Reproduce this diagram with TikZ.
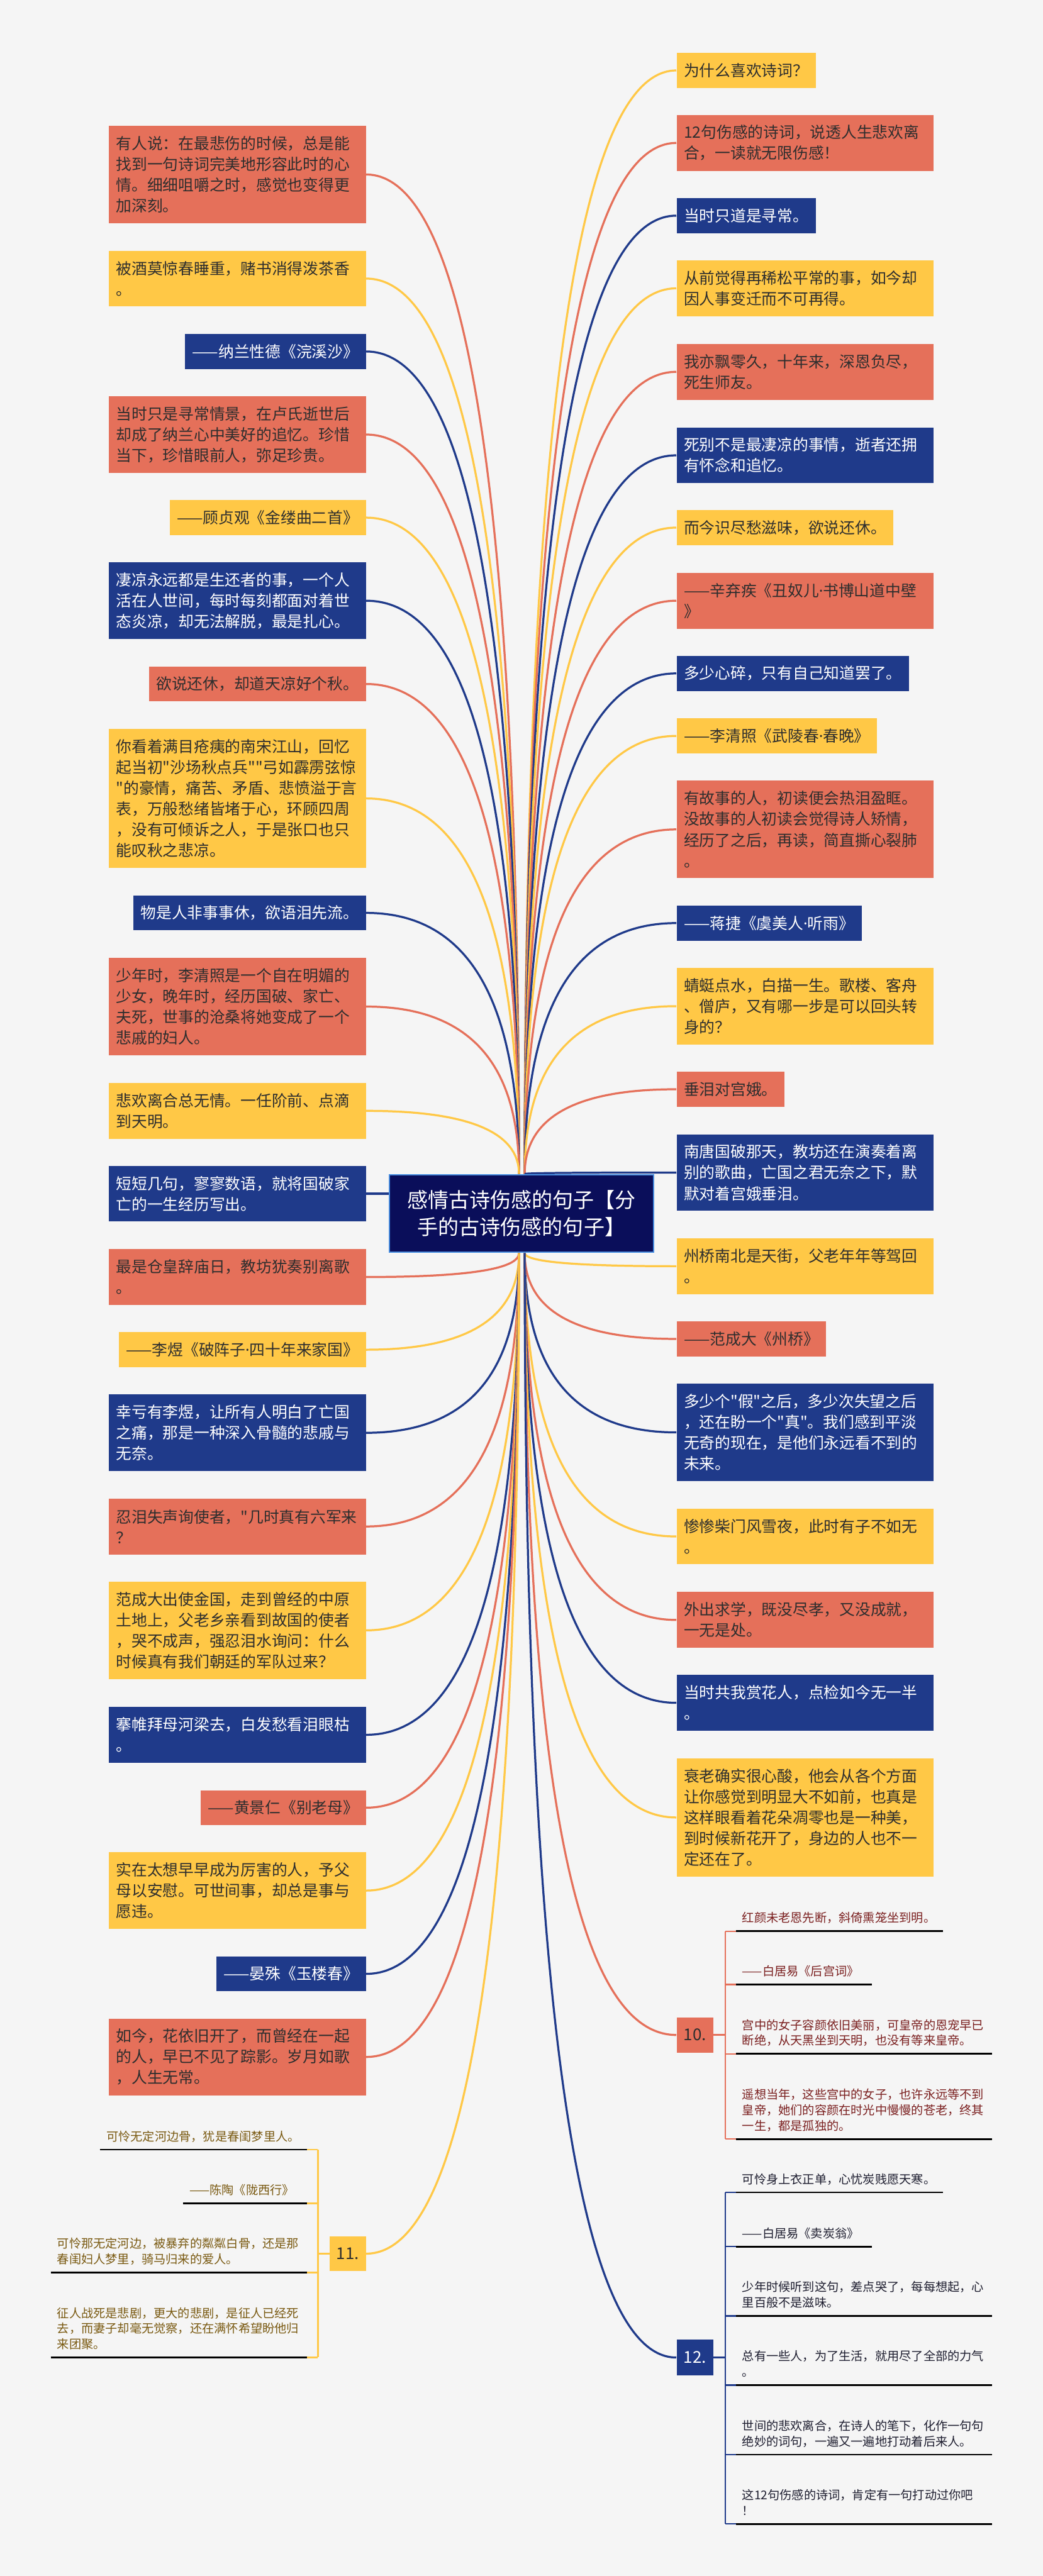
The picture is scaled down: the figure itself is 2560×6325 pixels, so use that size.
\documentclass[tikz,border=0pt]{standalone}
\usepackage{fontspec}
\setmainfont{Noto Sans CJK SC}
\newfontfamily\cjkf{Noto Sans CJK SC}
\newfontfamily\latinf{Noto Sans}
\newcommand\md{{\latinf ·}}
\usetikzlibrary{calc}
\definecolor{cred}{HTML}{E5705A}
\definecolor{cyel}{HTML}{FFC846}
\definecolor{cblue}{HTML}{1F3A8A}
\definecolor{croot}{HTML}{0A0E5A}
\definecolor{crootb}{HTML}{4A8FE0}
\definecolor{bgc}{HTML}{F5F5F5}
\definecolor{tdark}{HTML}{2E2E2E}
\definecolor{tred}{HTML}{7B2020}
\definecolor{tgold}{HTML}{7A5A12}
\definecolor{tnavy}{HTML}{1E1E30}
\pgfdeclarelayer{bgfill}\pgfdeclarelayer{links}\pgfsetlayers{bgfill,links,main}
\newcommand\mmlink[3]{\draw[mmline,#1] (#2) .. controls ($(#2)!0.667!(#2 |- #3)$) and ($(#3)!0.667!(#2 |- #3)$) .. (#3);}
\newcommand\dd{\rule[-1.5pt]{0pt}{1pt}}
\tikzset{
  mbox/.style={inner xsep=4.5pt, inner ysep=0pt, font=\cjkf\fontsize{9.55pt}{12.75pt}\selectfont, align=left},
  wide/.style={text width=148.75pt},
  hA/.style={minimum height=21.5pt},
  hB/.style={minimum height=34.25pt},
  hC/.style={minimum height=47pt},
  hD/.style={minimum height=59.75pt},
  hE/.style={minimum height=72.5pt},
  hF/.style={minimum height=85.25pt},
  bred/.style={fill=cred,text=tdark},
  byel/.style={fill=cyel,text=tdark},
  bblue/.style={fill=cblue,text=white},
  lft/.style={anchor=east},
  rgt/.style={anchor=west},
  mmline/.style={line width=1.25pt},
  rootbox/.style={fill=croot, draw=crootb, line width=0.75pt, text=white, align=center, font=\cjkf\fontsize{12.75pt}{16.75pt}\selectfont, minimum width=162pt, minimum height=47.75pt, inner sep=0pt},
  numbox/.style={inner sep=0pt, font=\cjkf\fontsize{10pt}{12pt}\selectfont, minimum width=22.5pt, minimum height=21.75pt},
  ctext/.style={inner xsep=3.75pt, inner ysep=3.7pt, align=left, font=\cjkf\fontsize{7.42pt}{9.5pt}\selectfont},
  brk/.style={line width=1pt},
  uline/.style={line width=1.1pt, black},
}
\begin{document}
\begin{tikzpicture}[x=0.25pt,y=-0.25pt]
\useasboundingbox (0,0) rectangle (2560,6325);
\begin{pgfonlayer}{bgfill}
\fill[bgc] (0,0) rectangle (2560,6325);
\end{pgfonlayer}

% root
\node[rootbox] (root) at (1280,2979.5) {感情古诗伤感的句子【分\\手的古诗伤感的句子】};
\coordinate (rtl) at ($(root.north)+(-6,0)$);
\coordinate (rtr) at ($(root.north)+(8,0)$);
\coordinate (rbl) at ($(root.south)+(-6,0)$);
\coordinate (rbr) at ($(root.south)+(8,0)$);

% left column
\node[mbox,bred,wide,hD,lft] (L1) at (899,428.5) {有人说：在最悲伤的时候，总是能\\找到一句诗词完美地形容此时的心\\情。细细咀嚼之时，感觉也变得更\\加深刻。};
\node[mbox,byel,wide,hB,lft] (L2) at (899,684) {被酒莫惊春睡重，赌书消得泼茶香\\。};
\node[mbox,bblue,hA,lft] (L3) at (899,863) {——纳兰性德《浣溪沙》};
\node[mbox,bred,wide,hC,lft] (L4) at (899,1067) {当时只是寻常情景，在卢氏逝世后\\却成了纳兰心中美好的追忆。珍惜\\当下，珍惜眼前人，弥足珍贵。};
\node[mbox,byel,hA,lft] (L5) at (899,1271) {——顾贞观《金缕曲二首》};
\node[mbox,bblue,wide,hC,lft] (L6) at (899,1475) {凄凉永远都是生还者的事，一个人\\活在人世间，每时每刻都面对着世\\态炎凉，却无法解脱，最是扎心。};
\node[mbox,bred,hA,lft] (L7) at (899,1679.5) {欲说还休，却道天凉好个秋。};
\node[mbox,byel,wide,hF,lft] (L8) at (899,1960.5) {你看着满目疮痍的南宋江山，回忆\\\mbox{起当初"沙场秋点兵""弓如霹雳弦惊}\\\mbox{"的豪情，痛苦、矛盾、悲愤溢于言}\\表，万般愁绪皆堵于心，环顾四周\\，没有可倾诉之人，于是张口也只\\能叹秋之悲凉。};
\node[mbox,bblue,hA,lft] (L9) at (899,2241.5) {物是人非事事休，欲语泪先流。};
\node[mbox,bred,wide,hD,lft] (L10) at (899,2471.5) {少年时，李清照是一个自在明媚的\\少女，晚年时，经历国破、家亡、\\夫死，世事的沧桑将她变成了一个\\悲戚的妇人。};
\node[mbox,byel,wide,hB,lft] (L11) at (899,2727.5) {悲欢离合总无情。一任阶前、点滴\\到天明。};
\node[mbox,bblue,wide,hB,lft] (L12) at (899,2931) {短短几句，寥寥数语，就将国破家\\亡的一生经历写出。};
\node[mbox,bred,wide,hB,lft] (L13) at (899,3135.5) {最是仓皇辞庙日，教坊犹奏别离歌\\。};
\node[mbox,byel,hA,lft] (L14) at (899,3314) {——李煜《破阵子\md 四十年来家国》};
\node[mbox,bblue,wide,hC,lft] (L15) at (899,3518) {幸亏有李煜，让所有人明白了亡国\\之痛，那是一种深入骨髓的悲戚与\\无奈。};
\node[mbox,bred,wide,hB,lft] (L16) at (899,3748) {\mbox{忍泪失声询使者，"几时真有六军来}\\？};
\node[mbox,byel,wide,hD,lft] (L17) at (899,4003) {范成大出使金国，走到曾经的中原\\土地上，父老乡亲看到故国的使者\\，哭不成声，强忍泪水询问：什么\\时候真有我们朝廷的军队过来？};
\node[mbox,bblue,wide,hB,lft] (L18) at (899,4259.5) {搴帷拜母河梁去，白发愁看泪眼枯\\。};
\node[mbox,bred,hA,lft] (L19) at (899,4438.5) {——黄景仁《别老母》};
\node[mbox,byel,wide,hC,lft] (L20) at (899,4642) {实在太想早早成为厉害的人，予父\\母以安慰。可世间事，却总是事与\\愿违。};
\node[mbox,bblue,hA,lft] (L21) at (899,4846.5) {——晏殊《玉楼春》};
\node[mbox,bred,wide,hC,lft] (L22) at (899,5050.5) {如今，花依旧开了，而曾经在一起\\的人，早已不见了踪影。岁月如歌\\，人生无常。};
\node[numbox,byel,text=tdark,anchor=east,minimum width=22.25pt,minimum height=21.25pt] (N11) at (899,5533.5) {11.};

% right column
\node[mbox,byel,hA,rgt] (R1) at (1660,173) {为什么喜欢诗词？};
\node[mbox,bred,wide,hB,rgt] (R2) at (1660,351) {12句伤感的诗词，说透人生悲欢离\\合，一读就无限伤感！};
\node[mbox,bblue,hA,rgt] (R3) at (1660,529.5) {当时只道是寻常。};
\node[mbox,byel,wide,hB,rgt] (R4) at (1660,708) {从前觉得再稀松平常的事，如今却\\因人事变迁而不可再得。};
\node[mbox,bred,wide,hB,rgt] (R5) at (1660,913) {我亦飘零久，十年来，深恩负尽，\\死生师友。};
\node[mbox,bblue,wide,hB,rgt] (R6) at (1660,1118) {死别不是最凄凉的事情，逝者还拥\\有怀念和追忆。};
\node[mbox,byel,hA,rgt] (R7) at (1660,1295.5) {而今识尽愁滋味，欲说还休。};
\node[mbox,bred,wide,hB,rgt] (R8) at (1660,1475) {\mbox{——辛弃疾《丑奴儿\md 书博山道中壁}\\》};
\node[mbox,bblue,hA,rgt] (R9) at (1660,1653.5) {多少心碎，只有自己知道罢了。};
\node[mbox,byel,hA,rgt] (R10) at (1660,1807) {——李清照《武陵春\md 春晚》};
\node[mbox,bred,wide,hD,rgt] (R11) at (1660,2036.5) {有故事的人，初读便会热泪盈眶。\\没故事的人初读会觉得诗人矫情，\\经历了之后，再读，简直撕心裂肺\\。};
\node[mbox,bblue,hA,rgt] (R12) at (1660,2266.5) {——蒋捷《虞美人\md 听雨》};
\node[mbox,byel,wide,hC,rgt] (R13) at (1660,2470.5) {蜻蜓点水，白描一生。歌楼、客舟\\、僧庐，又有哪一步是可以回头转\\身的？};
\node[mbox,bred,hA,rgt] (R14) at (1660,2674.5) {垂泪对宫娥。};
\node[mbox,bblue,wide,hC,rgt] (R15) at (1660,2879) {南唐国破那天，教坊还在演奏着离\\别的歌曲，亡国之君无奈之下，默\\默对着宫娥垂泪。};
\node[mbox,byel,wide,hB,rgt] (R16) at (1660,3109) {州桥南北是天街，父老年年等驾回\\。};
\node[mbox,bred,hA,rgt] (R17) at (1660,3287.5) {——范成大《州桥》};
\node[mbox,bblue,wide,hD,rgt] (R18) at (1660,3517) {\mbox{多少个"假"之后，多少次失望之后}\\\mbox{，还在盼一个"真"。我们感到平淡}\\无奇的现在，是他们永远看不到的\\未来。};
\node[mbox,byel,wide,hB,rgt] (R19) at (1660,3772.5) {惨惨柴门风雪夜，此时有子不如无\\。};
\node[mbox,bred,wide,hB,rgt] (R20) at (1660,3977.5) {外出求学，既没尽孝，又没成就，\\一无是处。};
\node[mbox,bblue,wide,hB,rgt] (R21) at (1660,4181) {当时共我赏花人，点检如今无一半\\。};
\node[mbox,byel,wide,hE,rgt] (R22) at (1660,4462.5) {衰老确实很心酸，他会从各个方面\\让你感觉到明显大不如前，也真是\\这样眼看着花朵凋零也是一种美，\\到时候新花开了，身边的人也不一\\定还在了。};
\node[numbox,bred,text=tdark,anchor=west,minimum height=21.75pt] (N10) at (1660,4996.5) {10.};
\node[numbox,bblue,text=white,anchor=west,minimum height=22.25pt] (N12) at (1660,5788.5) {12.};

% children of 10
\node[ctext,text=tred,text width=119.25pt,anchor=south west] (a1) at (1806,4742) {红颜未老恩先断，斜倚熏笼坐到明。\dd};
\node[ctext,text=tred,text width=75.75pt,anchor=south west] (a2) at (1806,4873) {——白居易《后宫词》\dd};
\node[ctext,text=tred,text width=149.25pt,anchor=south west] (a3) at (1806,5043) {宫中的女子容颜依旧美丽，可皇帝的恩宠早已\\断绝，从天黑坐到天明，也没有等来皇帝。\dd};
\node[ctext,text=tred,text width=149.25pt,anchor=south west] (a4) at (1806,5252) {遥想当年，这些宫中的女子，也许永远等不到\\皇帝，她们的容颜在时光中慢慢的苍老，终其\\一生，都是孤独的。\dd};

% children of 12
\node[ctext,text=tnavy,text width=119.25pt,anchor=south west] (b1) at (1806,5383) {可怜身上衣正单，心忧炭贱愿天寒。\dd};
\node[ctext,text=tnavy,text width=75.75pt,anchor=south west] (b2) at (1806,5516) {——白居易《卖炭翁》\dd};
\node[ctext,text=tnavy,text width=149.25pt,anchor=south west] (b3) at (1806,5686) {少年时候听到这句，差点哭了，每每想起，心\\里百般不是滋味。\dd};
\node[ctext,text=tnavy,text width=149.25pt,anchor=south west] (b4) at (1806,5856) {总有一些人，为了生活，就用尽了全部的力气\\。\dd};
\node[ctext,text=tnavy,text width=149.25pt,anchor=south west] (b5) at (1806,6027) {世间的悲欢离合，在诗人的笔下，化作一句句\\绝妙的词句，一遍又一遍地打动着后来人。\dd};
\node[ctext,text=tnavy,text width=149.25pt,anchor=south west] (b6) at (1806,6197) {这12句伤感的诗词，肯定有一句打动过你吧\\！\dd};

% children of 11
\node[ctext,text=tgold,text width=119pt,anchor=south east] (c1) at (753,5278) {可怜无定河边骨，犹是春闺梦里人。\dd};
\node[ctext,text=tgold,text width=68pt,anchor=south east] (c2) at (753,5410) {——陈陶《陇西行》\dd};
\node[ctext,text=tgold,text width=149.25pt,anchor=south east] (c3) at (753,5580) {可怜那无定河边，被暴弃的粼粼白骨，还是那\\春闺妇人梦里，骑马归来的爱人。\dd};
\node[ctext,text=tgold,text width=149.25pt,anchor=south east] (c4) at (753,5788) {征人战死是悲剧，更大的悲剧，是征人已经死\\去，而妻子却毫无觉察，还在满怀希望盼他归\\来团聚。\dd};

% brackets and underlines
\draw[brk,cred] (N10.east) -- ++(29,0) coordinate (k10);
\draw[brk,cred] (k10 |- a1.south west) -- (k10 |- a4.south west);
\foreach \q in {a1,a2,a3,a4} {
  \draw[brk,cred] (k10 |- \q.south west) -- (\q.south west);
  \draw[uline] (\q.south west) -- (\q.south east);
}
\draw[brk,cblue] (N12.east) -- ++(29,0) coordinate (k12);
\draw[brk,cblue] (k12 |- b1.south west) -- (k12 |- b6.south west);
\foreach \q in {b1,b2,b3,b4,b5,b6} {
  \draw[brk,cblue] (k12 |- \q.south west) -- (\q.south west);
  \draw[uline] (\q.south west) -- (\q.south east);
}
\draw[brk,cyel] (N11.west) -- ++(-28,0) coordinate (k11);
\draw[brk,cyel] (k11 |- c1.south east) -- (k11 |- c4.south east);
\foreach \q in {c1,c2,c3,c4} {
  \draw[brk,cyel] (k11 |- \q.south east) -- (\q.south east);
  \draw[uline] (\q.south west) -- (\q.south east);
}

% main links
\begin{pgfonlayer}{links}
\mmlink{cred}{rtl}{L1.east}
\mmlink{cyel}{rtl}{L2.east}
\mmlink{cblue}{rtl}{L3.east}
\mmlink{cred}{rtl}{L4.east}
\mmlink{cyel}{rtl}{L5.east}
\mmlink{cblue}{rtl}{L6.east}
\mmlink{cred}{rtl}{L7.east}
\mmlink{cyel}{rtl}{L8.east}
\mmlink{cblue}{rtl}{L9.east}
\mmlink{cred}{rtl}{L10.east}
\mmlink{cyel}{rtl}{L11.east}
\draw[mmline,cblue] (L12.east) -- (L12.east -| root.west);
\mmlink{cred}{rbl}{L13.east}
\mmlink{cyel}{rbl}{L14.east}
\mmlink{cblue}{rbl}{L15.east}
\mmlink{cred}{rbl}{L16.east}
\mmlink{cyel}{rbl}{L17.east}
\mmlink{cblue}{rbl}{L18.east}
\mmlink{cred}{rbl}{L19.east}
\mmlink{cyel}{rbl}{L20.east}
\mmlink{cblue}{rbl}{L21.east}
\mmlink{cred}{rbl}{L22.east}
\mmlink{cyel}{rbl}{N11.east}
\mmlink{cyel}{rtr}{R1.west}
\mmlink{cred}{rtr}{R2.west}
\mmlink{cblue}{rtr}{R3.west}
\mmlink{cyel}{rtr}{R4.west}
\mmlink{cred}{rtr}{R5.west}
\mmlink{cblue}{rtr}{R6.west}
\mmlink{cyel}{rtr}{R7.west}
\mmlink{cred}{rtr}{R8.west}
\mmlink{cblue}{rtr}{R9.west}
\mmlink{cyel}{rtr}{R10.west}
\mmlink{cred}{rtr}{R11.west}
\mmlink{cblue}{rtr}{R12.west}
\mmlink{cyel}{rtr}{R13.west}
\mmlink{cred}{rtr}{R14.west}
\mmlink{cblue}{rtr}{R15.west}
\mmlink{cyel}{rbr}{R16.west}
\mmlink{cred}{rbr}{R17.west}
\mmlink{cblue}{rbr}{R18.west}
\mmlink{cyel}{rbr}{R19.west}
\mmlink{cred}{rbr}{R20.west}
\mmlink{cblue}{rbr}{R21.west}
\mmlink{cyel}{rbr}{R22.west}
\mmlink{cred}{rbr}{N10.west}
\mmlink{cblue}{rbr}{N12.west}
\end{pgfonlayer}
\end{tikzpicture}
\end{document}
